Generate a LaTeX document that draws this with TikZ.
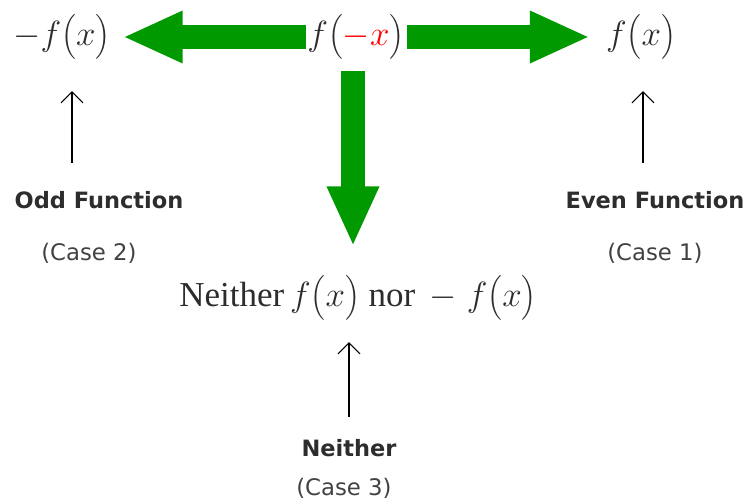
\RequirePackage{fix-cm}
\documentclass[tikz,border=0pt]{standalone}
\usepackage{amsmath}
\usepackage{fontspec}
\setmainfont{Liberation Serif}
\newfontfamily\labelfont{DejaVu Sans}
\usetikzlibrary{arrows.meta}
\definecolor{fatgreen}{RGB}{0,153,0}
\definecolor{inkgray}{RGB}{45,45,45}

\begin{document}
\begin{tikzpicture}[
    x=1pt, y=-1pt,
    mathlbl/.style={inner sep=0pt, text=inkgray, font=\fontsize{35}{40}\selectfont},
    namelbl/.style={inner sep=0pt, text=inkgray, font=\labelfont\bfseries\fontsize{22.5}{26}\selectfont},
    caselbl/.style={inner sep=0pt, text=inkgray!90, font=\labelfont\fontsize{22.8}{26}\selectfont},
    fatarrow/.style={draw=fatgreen, line width=24pt, -{Triangle[length=60pt,width=48pt]}},
    pointer/.style={draw=black, line width=1.1pt, -{Straight Barb[length=11pt,width=22pt]}}
]
    \useasboundingbox (0,0) rectangle (747,502);

    % Values
    \node[mathlbl] (fnegx) at (356,37) {$f\bigl(\textcolor{red}{-x}\bigr)$};
    \node[mathlbl] (negf) at (62,37) {$-f\bigl(x\bigr)$};
    \node[mathlbl] (posf) at (641,37) {$f\bigl(x\bigr)$};
    \node[mathlbl] (nonef) at (358,298) {Neither$\,f\bigl(x\bigr)$ nor $\,-\;f\bigl(x\bigr)$};

    % Cases
    \node[namelbl] (odd) at (99,200) {Odd Function};
    \node[caselbl] (case2) at (89,253) {(Case 2)};
    \node[namelbl] (even) at (655,200) {Even Function};
    \node[caselbl] (case1) at (655,253) {(Case 1)};
    \node[namelbl] (neither) at (349,448) {Neither};
    \node[caselbl] (case3) at (344,488) {(Case 3)};

    % Green arrows
    \draw[fatarrow, shorten <=1pt, shorten >=12pt] (fnegx.west) -- (negf.east);
    \draw[fatarrow, shorten <=2pt, shorten >=16pt] (fnegx.east) -- (posf.west);
    \draw[fatarrow, shorten <=11pt, shorten >=29pt] (fnegx.south -| 353,0) -- (nonef.north -| 353,0);

    % Pointers
    \draw[pointer] (odd.north) ++(-27,-28) -- ++(0,-72);
    \draw[pointer] (even.north) ++(-12,-28) -- ++(0,-72);
    \draw[pointer] (neither.north) ++(0,-22) -- ++(0,-75);
\end{tikzpicture}
\end{document}
